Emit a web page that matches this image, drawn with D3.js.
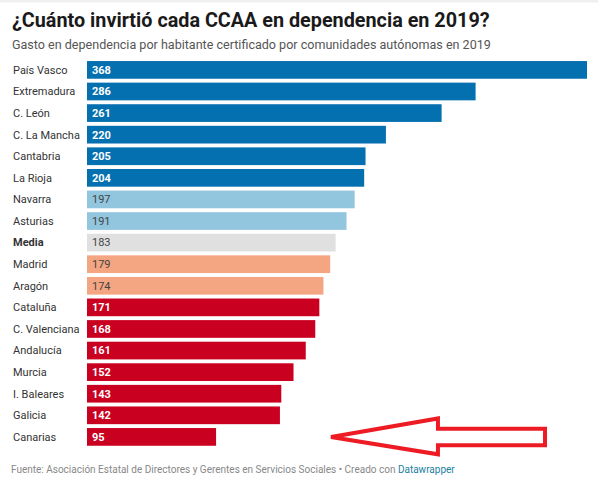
<!DOCTYPE html>
<html>
<head>
<meta charset="utf-8">
<script src="https://cdn.jsdelivr.net/npm/d3@7"></script>
<style>
  html, body { margin: 0; padding: 0; background: #fff; }
  svg { display: block; font-family: Roboto, "Noto Sans", sans-serif; }
</style>
</head>
<body>
<svg id="chart" width="598" height="494"></svg>
<script>
const categories = ["País Vasco","Extremadura","C. León","C. La Mancha","Cantabria","La Rioja","Navarra","Asturias","Media","Madrid","Aragón","Cataluña","C. Valenciana","Andalucía","Murcia","I. Baleares","Galicia","Canarias"];
const values = [368,286,261,220,205,204,197,191,183,179,174,171,168,161,152,143,142,95];
const groups = ["high","high","high","high","high","high","mid","mid","avg","low","low","lower","lower","lower","lower","lower","lower","lower"];
const groupColors = {high:"#0570b0", mid:"#92c5de", avg:"#e0e0e0", low:"#f4a582", lower:"#ca0020"};
const darkGroups = ["high","lower"];
// annotation arrow, in value units (x) and offset from the last row (y)
const arrowX = [179.6, 258.3, 258.3, 337.1, 337.1, 258.3, 258.3];
const arrowDy = [0, -18.5, -8.2, -8.2, 8.4, 8.4, 17.4];

const data = categories.map((c,i)=>({cat:c, val:values[i], grp:groups[i]}));
const svg = d3.select("#chart");

svg.append("rect").attr("x",0).attr("y",0).attr("width",598).attr("height",2.5).attr("fill","#efefef");

svg.append("text").attr("x",12).attr("y",27)
  .attr("font-size",19.8).attr("font-weight",700).attr("fill","#1a1a1a")
  .text("¿Cuánto invirtió cada CCAA en dependencia en 2019?");
svg.append("text").attr("x",12).attr("y",49)
  .attr("font-size",12.55).attr("fill","#555")
  .text("Gasto en dependencia por habitante certificado por comunidades autónomas en 2019");

const x = d3.scaleLinear().domain([0, 368]).range([87, 587]);
const y = d3.scaleBand().domain(categories).range([59.1, 447.7]).paddingInner(0.18).paddingOuter(0.09);

const g = svg.append("g");
const rows = g.selectAll("g.row").data(data).join("g").attr("class","row");

rows.append("rect")
  .attr("x", x(0)).attr("y", d=>y(d.cat))
  .attr("width", d=>x(d.val)-x(0)).attr("height", y.bandwidth())
  .attr("fill", d=>groupColors[d.grp]);

rows.append("text")
  .attr("x", 13).attr("y", d=>y(d.cat)+y.bandwidth()/2)
  .attr("dy","0.35em").attr("font-size",11).attr("fill","#333")
  .attr("font-weight", d=>d.cat==="Media"?700:400)
  .text(d=>d.cat);

rows.append("text")
  .attr("x", x(0)+5).attr("y", d=>y(d.cat)+y.bandwidth()/2)
  .attr("dy","0.35em").attr("font-size",11)
  .attr("fill", d=>darkGroups.includes(d.grp)?"#fff":"#444")
  .attr("font-weight", d=>darkGroups.includes(d.grp)?700:400)
  .text(d=>d.val);

// arrow annotation
const lastCat = categories[categories.length-1];
const cy = y(lastCat)+y.bandwidth()/2;
const pts = arrowX.map((v,i)=>[x(v), cy+arrowDy[i]]);
svg.append("path")
  .attr("d", d3.line()(pts)+"Z")
  .attr("fill","none").attr("stroke","#ed1c24").attr("stroke-width",4)
  .attr("stroke-linejoin","miter");

const foot = svg.append("text").attr("x",11).attr("y",473).attr("font-size",10).attr("fill","#888");
foot.append("tspan").text("Fuente: Asociación Estatal de Directores y Gerentes en Servicios Sociales • Creado con ");
foot.append("tspan").attr("fill","#1d81a2").text("Datawrapper");
</script>
</body>
</html>
